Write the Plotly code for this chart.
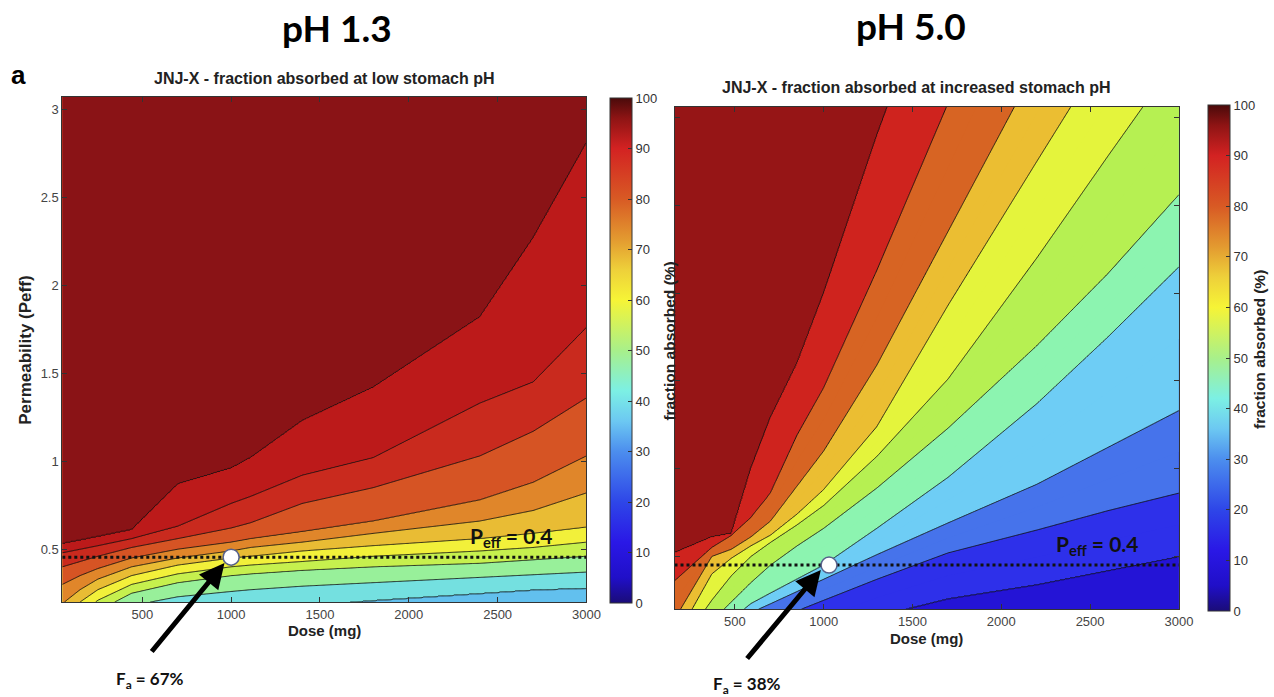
import numpy as np
import plotly.graph_objects as go

W, H = 1274, 697

# ---------------- data ----------------
# Left panel: pH 1.3 - Peff position of each contour level at each dose column
dose_L = [50, 150, 250, 440, 700, 1000, 1110, 1400, 1800, 2400, 2700, 3000]
levels_L = [50, 55, 60, 65, 70, 75, 80, 85, 90, 95]
left_L50 = [-0.15, -0.10, -0.05, 0.05, 0.12, 0.15, 0.16, 0.18, 0.21, 0.25, 0.27, 0.28]
left_L55 = [-0.10, 0.00, 0.10, 0.18, 0.23, 0.26, 0.27, 0.29, 0.31, 0.34, 0.355, 0.37]
left_L60 = [-0.02, 0.06, 0.15, 0.25, 0.31, 0.35, 0.36, 0.38, 0.40, 0.42, 0.44, 0.46]
left_L65 = [0.05, 0.13, 0.21, 0.30, 0.36, 0.40, 0.41, 0.43, 0.46, 0.49, 0.51, 0.54]
left_L70 = [0.12, 0.20, 0.27, 0.35, 0.41, 0.45, 0.46, 0.49, 0.52, 0.56, 0.59, 0.625]
left_L75 = [0.19, 0.27, 0.33, 0.40, 0.45, 0.49, 0.51, 0.54, 0.59, 0.66, 0.72, 0.82]
left_L80 = [0.30, 0.35, 0.39, 0.45, 0.50, 0.54, 0.56, 0.60, 0.66, 0.78, 0.88, 1.03]
left_L85 = [0.40, 0.43, 0.46, 0.51, 0.56, 0.62, 0.65, 0.76, 0.85, 1.03, 1.17, 1.36]
left_L90 = [0.48, 0.50, 0.52, 0.56, 0.63, 0.76, 0.80, 0.92, 1.02, 1.33, 1.45, 1.76]
left_L95 = [0.53, 0.55, 0.57, 0.61, 0.87, 0.96, 1.02, 1.23, 1.42, 1.82, 2.27, 2.81]

# Right panel: pH 5.0
dose_R = [160, 370, 480, 590, 700, 850, 1000, 1300, 1700, 2200, 2600, 3000]
levels_R = [10, 20, 30, 40, 50, 60, 70, 80, 90, 95]
right_L10 = [-0.50, -0.30, -0.20, -0.15, -0.10, -0.03, 0.05, 0.16, 0.26, 0.34, 0.42, 0.50]
right_L20 = [-0.30, 0.00, 0.05, 0.09, 0.13, 0.19, 0.25, 0.37, 0.52, 0.65, 0.76, 0.86]
right_L30 = [-0.25, 0.03, 0.12, 0.18, 0.23, 0.30, 0.37, 0.51, 0.69, 0.91, 1.12, 1.33]
right_L40 = [-0.20, 0.07, 0.14, 0.23, 0.29, 0.37, 0.45, 0.66, 0.95, 1.37, 1.75, 2.15]
right_L50 = [-0.10, 0.13, 0.24, 0.35, 0.45, 0.56, 0.66, 0.89, 1.23, 1.70, 2.11, 2.56]
right_L60 = [-0.05, 0.25, 0.39, 0.50, 0.58, 0.68, 0.79, 1.07, 1.51, 2.20, 2.78, 3.35]
right_L70 = [0.02, 0.40, 0.49, 0.56, 0.62, 0.74, 0.88, 1.24, 1.93, 2.75, 3.40, 4.05]
right_L80 = [0.14, 0.50, 0.54, 0.61, 0.70, 0.90, 1.10, 1.59, 2.35, 3.30, 4.00, 4.80]
right_L90 = [0.36, 0.55, 0.62, 0.72, 0.86, 1.19, 1.46, 2.13, 3.08, 4.30, 5.20, 6.20]
right_L95 = [0.52, 0.61, 0.63, 1.00, 1.29, 1.60, 2.00, 2.90, 4.00, 5.50, 6.60, 7.80]

# reference points / annotations
peff_line_L = 0.455
peff_line_R = 0.45
point_L = (1000, 0.455)
point_R = (1030, 0.45)
fa_L = "F<sub>a</sub> = 67%"
fa_R = "F<sub>a</sub> = 38%"

x_ticks = [500, 1000, 1500, 2000, 2500, 3000]
y_ticks = [0.5, 1, 1.5, 2, 2.5, 3]
cbar_ticks = [0, 10, 20, 30, 40, 50, 60, 70, 80, 90, 100]

# ---------------- styles ----------------
colors_L = ["#62C0EE", "#74E0E0", "#98F09A", "#C6F04E", "#F2F03A", "#E9BC34",
            "#E0862A", "#D65424", "#C92A1E", "#BC1A1A", "#8A1316"]
colors_R = ["#2414D6", "#2E30EA", "#4673EB", "#6ECDF5", "#8CF4B0", "#B6F052",
            "#E4F43C", "#EBBE32", "#D76423", "#CF231E", "#961516"]
jet_washed = [[0.0, "#1A0C78"], [0.05, "#200FC8"], [0.12, "#2A18E6"], [0.2, "#2E46E8"],
              [0.3, "#4C8EEE"], [0.36, "#6CC8F2"], [0.42, "#7CF0E4"], [0.5, "#A8F08A"],
              [0.6, "#F6F436"], [0.66, "#EED03A"], [0.72, "#E39A30"], [0.8, "#D85A24"],
              [0.9, "#D32222"], [0.96, "#8E1414"], [1.0, "#4A0A0A"]]

def px(x):
    return x / W

def py(y):
    return 1 - y / H

def build_z(doses, levels, curves, xgrid, ygrid):
    """Surface table for the contour trace, built from the read level positions."""
    z = np.zeros((len(ygrid), len(xgrid)))
    pos_cols = [np.interp(xgrid, doses, c) for c in curves]
    val = [levels[0] - 10] + list(levels) + [100.0]
    for j in range(len(xgrid)):
        pos = [-5.0] + [p[j] for p in pos_cols] + [20.0]
        z[:, j] = np.interp(ygrid, pos, val)
    return z

def band_colorscale(start, size, nc, levels, colors):
    cs = []
    for j in range(nc + 1):
        v = start - size / 2 if j == 0 else start + (j - 0.5) * size
        k = int(np.searchsorted(levels, v, side="right"))
        cs.append([j / nc, colors[k]])
    return cs

x_L = np.linspace(dose_L[0], dose_L[-1], 600)
x_R = np.linspace(dose_R[0], dose_R[-1], 600)
y_L = np.linspace(0.2, 3.07, 500)
y_R = np.linspace(0.2, 3.06, 500)
z_L = build_z(dose_L, levels_L, [left_L50, left_L55, left_L60, left_L65, left_L70,
                                  left_L75, left_L80, left_L85, left_L90, left_L95], x_L, y_L)
z_R = build_z(dose_R, levels_R, [right_L10, right_L20, right_L30, right_L40, right_L50,
                                  right_L60, right_L70, right_L80, right_L90, right_L95], x_R, y_R)

fig = go.Figure()

# ---- left panel fills + lines
nc_L = 10
fig.add_trace(go.Contour(x=x_L, y=y_L, z=z_L, xaxis="x", yaxis="y",
                         autocontour=False,
                         contours=dict(start=50, end=95, size=5, coloring="fill"),
                         colorscale=band_colorscale(50, 5, nc_L, levels_L, colors_L),
                         line=dict(width=0), showscale=False, hoverinfo="skip"))
fig.add_trace(go.Contour(x=x_L, y=y_L, z=z_L, xaxis="x", yaxis="y",
                         autocontour=False,
                         contours=dict(start=50, end=95, size=5, coloring="none"),
                         line=dict(color="#111", width=0.9), showscale=False, hoverinfo="skip"))

# ---- right panel fills + lines
nc_R = 19
fig.add_trace(go.Contour(x=x_R, y=y_R, z=z_R, xaxis="x2", yaxis="y2",
                         autocontour=False,
                         contours=dict(start=5, end=95, size=5, coloring="fill"),
                         colorscale=band_colorscale(5, 5, nc_R, levels_R, colors_R),
                         line=dict(width=0), showscale=False, hoverinfo="skip"))
fig.add_trace(go.Contour(x=x_R, y=y_R, z=z_R, xaxis="x2", yaxis="y2",
                         autocontour=False,
                         contours=dict(start=10, end=90, size=10, coloring="none"),
                         line=dict(color="#111", width=0.9), showscale=False, hoverinfo="skip"))
fig.add_trace(go.Contour(x=x_R, y=y_R, z=z_R, xaxis="x2", yaxis="y2",
                         autocontour=False,
                         contours=dict(start=95, end=95, size=5, coloring="none"),
                         line=dict(color="#111", width=0.9), showscale=False, hoverinfo="skip"))

# ---- dotted Peff lines and points
fig.add_trace(go.Scatter(x=[dose_L[0], dose_L[-1]], y=[peff_line_L, peff_line_L], mode="lines",
                         line=dict(color="#111", width=3, dash="dot"), xaxis="x", yaxis="y",
                         showlegend=False, hoverinfo="skip"))
fig.add_trace(go.Scatter(x=[dose_R[0], dose_R[-1]], y=[peff_line_R, peff_line_R], mode="lines",
                         line=dict(color="#111", width=3, dash="dot"), xaxis="x2", yaxis="y2",
                         showlegend=False, hoverinfo="skip"))
fig.add_trace(go.Scatter(x=[point_L[0]], y=[point_L[1]], mode="markers",
                         marker=dict(size=16, color="white", line=dict(color="#56618C", width=1.5)),
                         xaxis="x", yaxis="y", showlegend=False, hoverinfo="skip"))
fig.add_trace(go.Scatter(x=[point_R[0]], y=[point_R[1]], mode="markers",
                         marker=dict(size=16, color="white", line=dict(color="#56618C", width=1.5)),
                         xaxis="x2", yaxis="y2", showlegend=False, hoverinfo="skip"))

# ---- colorbars (continuous)
for (xa, ya, cbx, cby, cblen) in [("x", "y", 617, 350.5, 505), ("x2", "y2", 1221, 358, 506)]:
    fig.add_trace(go.Scatter(x=[None], y=[None], mode="markers", xaxis=xa, yaxis=ya,
                             marker=dict(color=[0], cmin=0, cmax=100, colorscale=jet_washed,
                                         showscale=True,
                                         colorbar=dict(x=px(cbx), xanchor="left", xpad=0, ypad=0,
                                                       y=py(cby), yanchor="middle",
                                                       lenmode="pixels", len=cblen,
                                                       thickness=22, thicknessmode="pixels",
                                                       outlinewidth=1, outlinecolor="#333",
                                                       tickvals=cbar_ticks, ticks="inside",
                                                       ticklen=4, tickcolor="#333",
                                                       tickfont=dict(family="Liberation Sans", size=13, color="#333"))),
                             showlegend=False, hoverinfo="skip"))

axis_common = dict(showgrid=False, zeroline=False, showline=True, linecolor="#333", linewidth=1,
                   mirror="ticks", ticks="inside", ticklen=5, tickcolor="#333",
                   tickfont=dict(family="Liberation Sans", size=13, color="#444"))

fig.update_layout(
    width=W, height=H, margin=dict(l=0, r=0, t=0, b=0),
    paper_bgcolor="white", plot_bgcolor="white", showlegend=False,
    xaxis=dict(domain=[px(63), px(593)], range=[dose_L[0], dose_L[-1]], tickvals=x_ticks,
               anchor="y", **axis_common),
    yaxis=dict(domain=[py(602), py(97)], range=[0.2, 3.07], tickvals=y_ticks,
               anchor="x", **axis_common),
    xaxis2=dict(domain=[px(682), px(1192)], range=[dose_R[0], dose_R[-1]], tickvals=x_ticks,
                anchor="y2", **axis_common),
    yaxis2=dict(domain=[py(609), py(107)], range=[0.2, 3.06], tickvals=y_ticks,
                showticklabels=False, anchor="x2", **axis_common),
)

bold = "Liberation Sans"
ann = []
def T(x, y, text, size, family=bold, angle=0, color="#111", xanchor="center"):
    ann.append(dict(x=px(x), y=py(y), xref="paper", yref="paper", text=text, showarrow=False,
                    textangle=angle, xanchor=xanchor, yanchor="middle",
                    font=dict(family=family, size=size, color=color)))

T(341, 28, "<b>pH 1.3</b>", 37, family="Lato", color="#000")
T(921, 25, "<b>pH 5.0</b>", 37, family="Lato", color="#000")
T(19, 75, "<b>a</b>", 26, color="#000")
T(328, 78, "<b>JNJ-X - fraction absorbed at low stomach pH</b>", 16, color="#222")
T(927, 88, "<b>JNJ-X - fraction absorbed at increased stomach pH</b>", 16, color="#222")
T(328, 630, "<b>Dose (mg)</b>", 15, color="#222")
T(937, 638, "<b>Dose (mg)</b>", 15, color="#222")
T(25, 350, "<b>Permeability (Peff)</b>", 17, angle=-90, color="#222")
T(676, 341, "<b>fraction absorbed (%)</b>", 15.5, angle=-90, color="#222")
T(1273, 350, "<b>fraction absorbed (%)</b>", 15.5, angle=-90, color="#222")
T(517, 537, "<b>P<sub>eff</sub> = 0.4</b>", 21, family="Lato", color="#111")
T(1110, 545, "<b>P<sub>eff</sub> = 0.4</b>", 21, family="Lato", color="#111")
T(152, 680, "<b>" + fa_L + "</b>", 17, family="Lato", color="#111")
T(755, 685, "<b>" + fa_R + "</b>", 17, family="Lato", color="#111")

for (hx, hy, tx, ty) in [(227, 563, 153, 653), (830, 570, 755, 660)]:
    ann.append(dict(x=px(hx), y=py(hy), xref="paper", yref="paper", ax=tx - hx, ay=ty - hy,
                    axref="pixel", ayref="pixel", showarrow=True, arrowhead=2, arrowsize=1,
                    arrowwidth=5, arrowcolor="#000", text=""))

fig.update_layout(annotations=ann)
fig.write_html("out.html")
